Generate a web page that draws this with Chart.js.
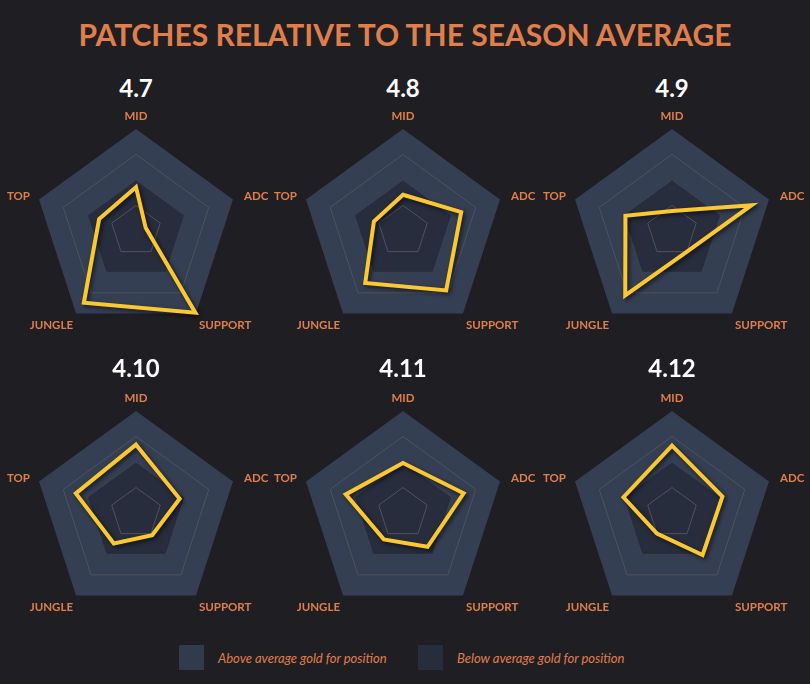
<!DOCTYPE html>
<html>
<head>
<meta charset="utf-8">
<script src="https://cdn.jsdelivr.net/npm/chart.js@4.4.1/dist/chart.umd.min.js"></script>
<style>
  html, body { margin: 0; padding: 0; }
  body { width: 810px; height: 684px; background: #1e1e23; position: relative; overflow: hidden; font-family: Lato, "Open Sans", sans-serif; }
  .title { position: absolute; left: 0; width: 810px; top: 16px; line-height: 36px; text-align: center; color: #e07f4c; font-weight: 700; font-size: 30px; }
  .patch { position: absolute; width: 120px; text-align: center; color: #fff; font-weight: 700; font-size: 24px; line-height: 28px; }
  canvas.radar { position: absolute; }
  .legend { position: absolute; top: 645px; height: 25px; display: flex; align-items: center; color: #e07f4c; font-style: italic; font-size: 13px; }
  .legend span.box { width: 25px; height: 25px; margin-right: 14px; display: inline-block; }
</style>
</head>
<body>
<div class="title">PATCHES RELATIVE TO THE SEASON AVERAGE</div>
<div id="charts"></div>
<div class="legend" style="left:179px"><span class="box" style="background:#323b4e"></span>Above average gold for position</div>
<div class="legend" style="left:418px"><span class="box" style="background:#262d3c"></span>Below average gold for position</div>

<script>
// positions around the radar
const positions = ["MID", "ADC", "SUPPORT", "JUNGLE", "TOP"];
const patches = ["4.7", "4.8", "4.9", "4.10", "4.11", "4.12"];

// gold relative to season average, 0..1 on the radar (0.5 = average)
const patch47 = [0.43, 0.10, 0.99, 0.87, 0.38];
const patch48 = [0.355, 0.60, 0.72, 0.63, 0.30];
const patch49 = [0.195, 0.82, 0.25, 0.78, 0.48];
const patch410 = [0.67, 0.45, 0.27, 0.37, 0.62];
const patch411 = [0.49, 0.625, 0.41, 0.32, 0.59];
const patch412 = [0.66, 0.52, 0.51, 0.25, 0.50];
const patchValues = [patch47, patch48, patch49, patch410, patch411, patch412];

// background bands: above average (outer) and below average (inner)
const bandLevels = [1, 0.5];
const bandColors = ["#353f53", "#272d3c"];

const orange = "#e07f4c";
const yellow = "#fcc832";

// fills the bands under the grid lines
const bandsPlugin = {
  id: "bands",
  beforeDraw(chart) {
    const scale = chart.scales.r;
    const ctx = chart.ctx;
    bandLevels.forEach((level, b) => {
      ctx.beginPath();
      positions.forEach((p, i) => {
        const pt = scale.getPointPositionForValue(i, level);
        if (i === 0) ctx.moveTo(pt.x, pt.y);
        else ctx.lineTo(pt.x, pt.y);
      });
      ctx.closePath();
      ctx.fillStyle = bandColors[b];
      ctx.fill();
    });
  },
};

// soft shadow under the yellow line
const shadowPlugin = {
  id: "lineShadow",
  beforeDatasetDraw(chart) {
    const ctx = chart.ctx;
    ctx.save();
    ctx.shadowColor = "rgba(0,0,0,0.6)";
    ctx.shadowBlur = 4;
    ctx.shadowOffsetX = 2;
    ctx.shadowOffsetY = 2;
  },
  afterDatasetDraw(chart) {
    chart.ctx.restore();
  },
};

// axis names placed next to the outer vertices, like the original layout
const labelPlace = [
  { align: "center", dx: 0, dy: -13 },
  { align: "left", dx: 11, dy: -3 },
  { align: "left", dx: 3, dy: 12 },
  { align: "right", dx: -3, dy: 12 },
  { align: "right", dx: -9, dy: -3 },
];
const axisLabelsPlugin = {
  id: "axisLabels",
  afterDraw(chart) {
    const scale = chart.scales.r;
    const ctx = chart.ctx;
    ctx.save();
    ctx.font = "bold 11.5px Lato";
    ctx.fillStyle = orange;
    ctx.textBaseline = "middle";
    chart.data.labels.forEach((text, i) => {
      const pt = scale.getPointPositionForValue(i, scale.max);
      const pl = labelPlace[i];
      ctx.textAlign = pl.align;
      ctx.fillText(text, pt.x + pl.dx, pt.y + pl.dy);
    });
    ctx.restore();
  },
};

const colCenter = [136, 403, 672];
const rowCenter = [231, 513];
const titleY = [88, 368];
const radius = 102;
const container = document.getElementById("charts");

patches.forEach((name, k) => {
  const col = k % 3;
  const row = Math.floor(k / 3);
  const w = 270, h = 260;
  const left = colCenter[col] - w / 2;
  const top = rowCenter[row] - h / 2;
  const padX = w / 2 - radius, padY = h / 2 - radius;

  const label = document.createElement("div");
  label.className = "patch";
  label.textContent = name;
  label.style.left = (colCenter[col] - 60) + "px";
  label.style.top = (titleY[row] - 14) + "px";
  container.appendChild(label);

  const canvas = document.createElement("canvas");
  canvas.className = "radar";
  canvas.width = w;
  canvas.height = h;
  canvas.style.left = left + "px";
  canvas.style.top = top + "px";
  container.appendChild(canvas);

  new Chart(canvas.getContext("2d"), {
    type: "radar",
    data: {
      labels: positions,
      datasets: [
        {
          label: name,
          data: patchValues[k],
          borderColor: yellow,
          borderWidth: 4,
          borderJoinStyle: "miter",
          fill: false,
          pointRadius: 0,
          tension: 0,
        },
      ],
    },
    options: {
      responsive: false,
      animation: false,
      layout: { padding: { left: padX, right: padX, top: padY, bottom: padY } },
      plugins: {
        legend: { display: false },
        tooltip: { enabled: false },
      },
      scales: {
        r: {
          min: 0,
          max: 1,
          ticks: { stepSize: 0.25, display: false },
          angleLines: { display: false },
          grid: {
            lineWidth: 1,
            color: (c) => {
              if (c.tick.value === 1) return "rgba(0,0,0,0)";
              if (c.tick.value === 0.5) return "rgba(80,82,90,0.35)";
              return "#4f525b";
            },
          },
          pointLabels: { display: false },
        },
      },
    },
    plugins: [bandsPlugin, shadowPlugin, axisLabelsPlugin],
  });
});
</script>
</body>
</html>
